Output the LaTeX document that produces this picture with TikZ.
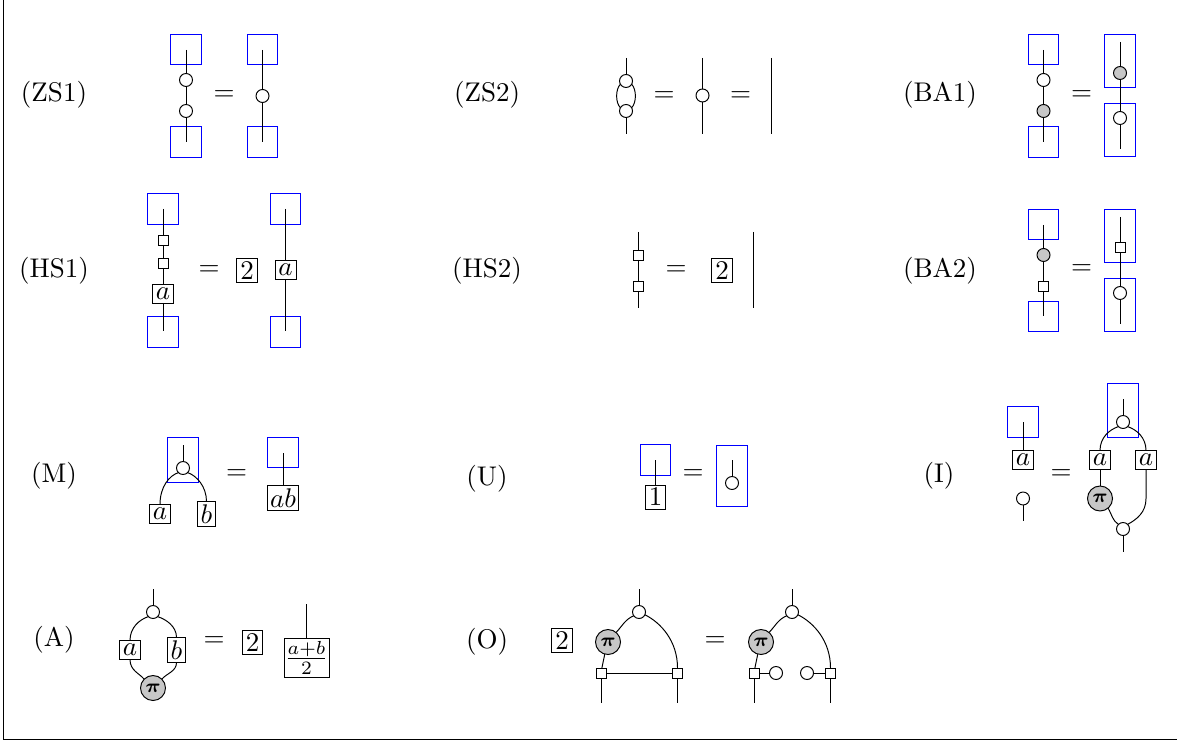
\documentclass[tikz,border=0pt]{standalone}
\usepackage{amsmath}
\def\px{0.37037pt}
\def\lw{0.36pt}
\tikzset{
  x=0.37037pt,y=-0.37037pt,
  every node/.style={inner sep=0pt,outer sep=0pt},
  blk/.style={draw=blue,line width=\lw,minimum width=30.5*\px,minimum height=#1*\px},
  blk/.default=30.5,
  wc/.style={circle,draw,fill=white,line width=\lw,minimum size=13*\px},
  gc/.style={circle,draw,fill=black!22,line width=\lw,minimum size=13*\px},
  pic1/.style={circle,draw,fill=black!22,line width=\lw,minimum size=25*\px,font=\scriptsize\boldmath},
  sq/.style={rectangle,draw,fill=white,line width=\lw,minimum size=10*\px},
  lab/.style={rectangle,draw,fill=white,line width=\lw,minimum width=21*\px,minimum height=19*\px},
  labb/.style={rectangle,draw,fill=white,line width=\lw,minimum width=18*\px,minimum height=25*\px},
  two/.style={rectangle,draw,fill=white,line width=\lw,minimum width=20.5*\px,minimum height=24*\px},
  wire/.style={draw=black,line width=\lw},
  frameline/.style={draw=black,line width=\lw},
  eqs/.style={yshift=-2*\px},
  tag/.style={yshift=-1.5*\px},
}
\begin{document}
\begin{tikzpicture}
\useasboundingbox (0,0) rectangle (1177,742);
\coordinate (f1) at (3,0); \coordinate (f2) at (3,739); \coordinate (f3) at (1177,739);
\draw[frameline] (f1) -- (f2) -- (f3);

% labels
\node[tag] (lZS1) at (54,93) {(ZS1)};
\node[tag] (lHS1) at (54,269.5) {(HS1)};
\node[tag] (lZS2) at (487,93) {(ZS2)};
\node[tag] (lHS2) at (487,269.5) {(HS2)};
\node[tag] (lBA1) at (940,93) {(BA1)};
\node[tag] (lBA2) at (940,269.5) {(BA2)};
\node[tag] (lM) at (54,474) {(M)};
\node[tag] (lU) at (487,477) {(U)};
\node[tag] (lI) at (939,474) {(I)};
\node[tag] (lA) at (54,638) {(A)};
\node[tag] (lO) at (487,640) {(O)};

% ZS1
\node[blk] (z1a) at (186,49.5) {};
\node[blk] (z1b) at (186,142) {};
\coordinate (z1t) at (186,50); \coordinate (z1e) at (186,142);
\node[wc] (z1c) at (186,80) {};
\node[wc] (z1d) at (186,111) {};
\draw[wire] (z1t) -- (z1c) -- (z1d) -- (z1e);
\node[eqs] (z1q) at (224,94) {$=$};
\node[blk] (z2a) at (262.5,49.5) {};
\node[blk] (z2b) at (262.5,142) {};
\coordinate (z2t) at (262.5,50); \coordinate (z2e) at (262.5,142);
\node[wc] (z2c) at (262.5,96) {};
\draw[wire] (z2t) -- (z2c) -- (z2e);

% HS1
\node[blk] (h1a) at (163,209) {};
\node[blk] (h1b) at (163,332) {};
\coordinate (h1t) at (163,209); \coordinate (h1e) at (163,331);
\node[sq] (h1c) at (163,240) {};
\node[sq] (h1d) at (163,263) {};
\node[lab] (h1f) at (163,293.5) {$a$};
\draw[wire] (h1t) -- (h1c) -- (h1d) -- (h1f) -- (h1e);
\node[eqs] (h1q) at (209,269) {$=$};
\node[two] (h1g) at (247,270.5) {$2$};
\node[blk] (h2a) at (285.5,209) {};
\node[blk] (h2b) at (285.5,332) {};
\coordinate (h2t) at (285.5,209); \coordinate (h2e) at (285.5,331);
\node[lab] (h2f) at (285.5,270) {$a$};
\draw[wire] (h2t) -- (h2f) -- (h2e);

% ZS2
\coordinate (s1t) at (626,58); \coordinate (s1e) at (626,134);
\node[wc] (s1c) at (626,81) {};
\node[wc] (s1d) at (626,111) {};
\draw[wire] (s1t) -- (s1c);
\draw[wire] (s1d) -- (s1e);
\draw[wire] (s1c.210) .. controls +(-5,5) and +(-5,-5) .. (s1d.150);
\draw[wire] (s1c.330) .. controls +(5,5) and +(5,-5) .. (s1d.30);
\node[eqs] (s1q) at (664,95) {$=$};
\coordinate (s2t) at (702.5,58); \coordinate (s2e) at (702.5,134);
\node[wc] (s2c) at (702.5,95.5) {};
\draw[wire] (s2t) -- (s2c) -- (s2e);
\node[eqs] (s2q) at (740.5,95) {$=$};
\coordinate (s3t) at (771.5,58); \coordinate (s3e) at (771.5,134);
\draw[wire] (s3t) -- (s3e);

% HS2
\coordinate (t1t) at (638,232); \coordinate (t1e) at (638,308);
\node[sq] (t1c) at (638,255) {};
\node[sq] (t1d) at (638,286) {};
\draw[wire] (t1t) -- (t1c) -- (t1d) -- (t1e);
\node[eqs] (t1q) at (676,269) {$=$};
\node[two] (t1g) at (722,270.5) {$2$};
\coordinate (t2t) at (753,232); \coordinate (t2e) at (753,308);
\draw[wire] (t2t) -- (t2e);

% BA1
\node[blk] (b1a) at (1043.5,49.5) {};
\node[blk] (b1b) at (1043.5,142) {};
\coordinate (b1t) at (1043.5,50); \coordinate (b1e) at (1043.5,142);
\node[wc] (b1c) at (1043.5,80) {};
\node[gc] (b1d) at (1043.5,111) {};
\draw[wire] (b1t) -- (b1c) -- (b1d) -- (b1e);
\node[eqs] (b1q) at (1081.5,94) {$=$};
\node[blk=53.5] (b2a) at (1120,61.2) {};
\node[blk=53.5] (b2b) at (1120,130.2) {};
\coordinate (b2t) at (1120,42); \coordinate (b2e) at (1120,149);
\node[gc] (b2c) at (1120,73) {};
\node[wc] (b2d) at (1120,118) {};
\draw[wire] (b2t) -- (b2c) -- (b2d) -- (b2e);

% BA2
\node[blk] (a1a) at (1043.5,224.5) {};
\node[blk] (a1b) at (1043.5,316.5) {};
\coordinate (a1t) at (1043.5,225); \coordinate (a1e) at (1043.5,316);
\node[gc] (a1c) at (1043.5,255) {};
\node[sq] (a1d) at (1043.5,286) {};
\draw[wire] (a1t) -- (a1c) -- (a1d) -- (a1e);
\node[eqs] (a1q) at (1081.5,268) {$=$};
\node[blk=53.5] (a2a) at (1120,236) {};
\node[blk=53.5] (a2b) at (1120,305) {};
\coordinate (a2t) at (1120,217); \coordinate (a2e) at (1120,324);
\node[sq] (a2c) at (1120,247.5) {};
\node[wc] (a2d) at (1120,293) {};
\draw[wire] (a2t) -- (a2c) -- (a2d) -- (a2e);

% M
\node[blk=45.5] (m1a) at (183,460.2) {};
\coordinate (m1t) at (183,445);
\node[wc] (m1c) at (183,468) {};
\node[lab] (m1x) at (160,514) {$a$};
\node[labb] (m1y) at (206.5,514) {$b$};
\draw[wire] (m1t) -- (m1c);
\draw[wire] (m1c.225) .. controls +(-9,3) and +(0,-18) .. (m1x.north);
\draw[wire] (m1c.315) .. controls +(9,3) and +(0,-15) .. (m1y.north);
\node[eqs] (m1q) at (236.5,473) {$=$};
\node[blk] (m2a) at (283,452.5) {};
\coordinate (m2t) at (283,453);
\node[lab,minimum width=31*\px,minimum height=25*\px] (m2f) at (283,498) {$ab$};
\draw[wire] (m2t) -- (m2f);

% U
\node[blk] (u1a) at (655.5,460) {};
\coordinate (u1t) at (655.5,460);
\node[two] (u1f) at (655.5,497) {$1$};
\draw[wire] (u1t) -- (u1f);
\node[eqs] (u1q) at (693,473) {$=$};
\node[blk=61] (u2a) at (732,475.5) {};
\coordinate (u2t) at (732,460);
\node[wc] (u2c) at (732,483) {};
\draw[wire] (u2t) -- (u2c);

% I
\node[blk] (i1a) at (1023,422) {};
\coordinate (i1t) at (1023,422);
\node[lab] (i1f) at (1023,460) {$a$};
\draw[wire] (i1t) -- (i1f);
\node[wc] (i1c) at (1023,498.5) {};
\coordinate (i1e) at (1023,521);
\draw[wire] (i1c) -- (i1e);
\node[eqs] (i1q) at (1061,473) {$=$};
\node[blk=53.5] (i2a) at (1123,410.5) {};
\coordinate (i2t) at (1123,399);
\node[wc] (i2c) at (1123,422) {};
\node[lab] (i2x) at (1100,460) {$a$};
\node[lab] (i2y) at (1146,460) {$a$};
\node[pic1] (i2p) at (1100,498.5) {$\pi$};
\node[wc] (i2d) at (1123,529) {};
\coordinate (i2e) at (1123,552);
\draw[wire] (i2t) -- (i2c);
\draw[wire] (i2c.225) .. controls +(-9,3) and +(0,-13) .. (i2x.north);
\draw[wire] (i2c.315) .. controls +(9,3) and +(0,-13) .. (i2y.north);
\draw[wire] (i2x) -- (i2p);
\draw[wire] (i2p.-50) .. controls +(4,7) and +(-6,-4) .. (i2d.135);
\draw[wire] (i2y.south) -- ++(0,29) .. controls +(0,14) and +(9,-5) .. (i2d.45);
\draw[wire] (i2d) -- (i2e);

% A
\coordinate (p1t) at (153,589);
\node[wc] (p1c) at (153,612) {};
\node[lab] (p1x) at (130,650) {$a$};
\node[labb] (p1y) at (176.5,650) {$b$};
\node[pic1] (p1p) at (153,688) {$\pi$};
\draw[wire] (p1t) -- (p1c);
\draw[wire] (p1c.225) .. controls +(-9,3) and +(0,-13) .. (p1x.north);
\draw[wire] (p1c.315) .. controls +(9,3) and +(0,-11) .. (p1y.north);
\draw[wire] (p1x.south) .. controls +(0,11) and +(-5,-6) .. (p1p.135);
\draw[wire] (p1y.south) .. controls +(0,9) and +(5,-6) .. (p1p.45);
\node[eqs] (p1q) at (214,640) {$=$};
\node[two] (p1g) at (252.7,642.5) {$2$};
\node[rectangle,draw,fill=white,line width=\lw,minimum width=45*\px,minimum height=39*\px] (p1f) at (306.5,658) {$\frac{a+b}{2}$};
\coordinate (p2t) at (306.5,604);
\draw[wire] (p2t) -- (p1f);

% O
\node[two] (o0) at (562,640.5) {$2$};
\coordinate (o1t) at (639,589);
\node[wc] (o1c) at (639,612) {};
\node[pic1] (o1p) at (608,642) {$\pi$};
\node[sq] (o1x) at (601,673) {};
\node[sq] (o1y) at (677.5,673) {};
\coordinate (o1l) at (601,703); \coordinate (o1r) at (677.5,703);
\draw[wire] (o1t) -- (o1c);
\draw[wire] (o1c.215) .. controls +(-9,4) and +(6,-6) .. (o1p.50);
\draw[wire] (o1p.255) -- (o1x.80);
\draw[wire] (o1c.335) .. controls +(16,8) and +(0,-27) .. (o1y.north);
\draw[wire] (o1x) -- (o1y);
\draw[wire] (o1x) -- (o1l);
\draw[wire] (o1y) -- (o1r);
\node[eqs] (o1q) at (715,640) {$=$};
\coordinate (o2t) at (792,589);
\node[wc] (o2c) at (792,612) {};
\node[pic1] (o2p) at (761,642) {$\pi$};
\node[sq] (o2x) at (754,673) {};
\node[sq] (o2y) at (830.5,673) {};
\node[wc] (o2u) at (776,673) {};
\node[wc] (o2v) at (807,673) {};
\coordinate (o2l) at (754,703); \coordinate (o2r) at (830.5,703);
\draw[wire] (o2t) -- (o2c);
\draw[wire] (o2c.215) .. controls +(-9,4) and +(6,-6) .. (o2p.50);
\draw[wire] (o2p.255) -- (o2x.80);
\draw[wire] (o2c.335) .. controls +(16,8) and +(0,-27) .. (o2y.north);
\draw[wire] (o2x) -- (o2u);
\draw[wire] (o2v) -- (o2y);
\draw[wire] (o2x) -- (o2l);
\draw[wire] (o2y) -- (o2r);
\end{tikzpicture}
\end{document}
